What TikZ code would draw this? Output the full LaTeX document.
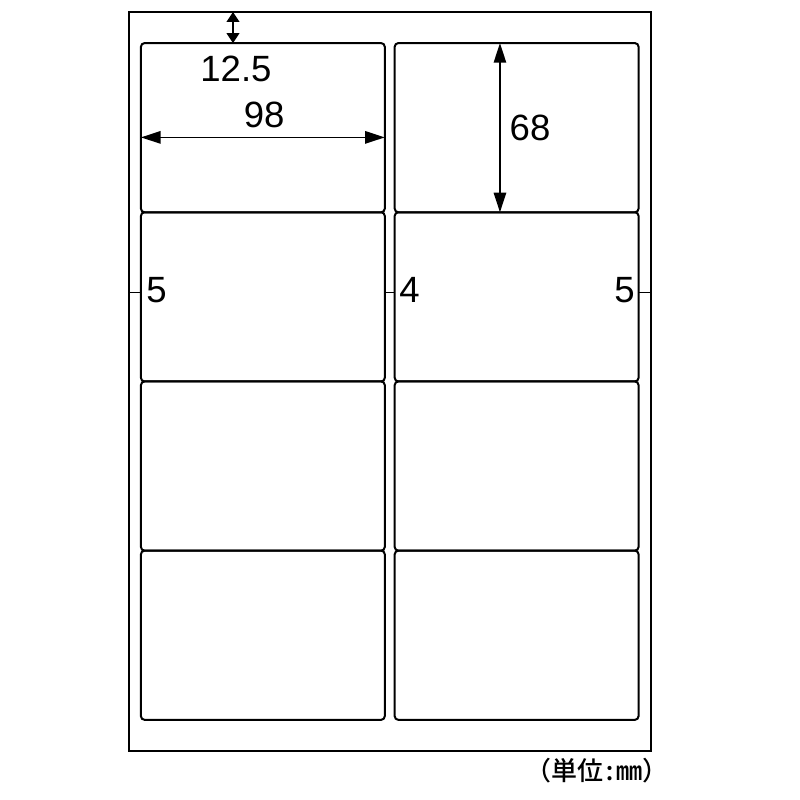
\documentclass[tikz,border=0pt]{standalone}
\usepackage{fontspec}
\setmainfont{Liberation Sans}
\newfontfamily\jpfont[UprightFont=* Medium]{Noto Sans CJK JP}
\newfontfamily\jphalf[UprightFont=* Medium,CharacterWidth=Half]{Noto Sans CJK JP}
\usetikzlibrary{arrows.meta}
\tikzset{
  sheet/.style={line width=0.5mm},
  labelbox/.style={line width=0.5mm, rounded corners=0.9mm},
  dimline/.style={line width=0.38mm},
  dimarrow/.style={dimline, {Triangle[length=4.9mm,width=3.1mm]}-{Triangle[length=4.9mm,width=3.1mm]}},
  dimshort/.style={dimline, {Triangle[length=2.5mm,width=3.2mm]}-{Triangle[length=2.5mm,width=3.2mm]}},
  dimtext/.style={font=\fontsize{26}{30}\selectfont, inner sep=0pt},
  unittext/.style={font=\fontsize{18.5}{20}\selectfont\jpfont, inner sep=0pt},
}
\begin{document}
\begin{tikzpicture}[x=0.622mm,y=-0.622mm]
\useasboundingbox (-51.65,-4.82) rectangle (269.9,316.7);
%sheet
\draw[sheet] (0,0) rectangle (210,297);
%labels 2 x 4
\foreach \c in {0,1}{
	\foreach \r in {0,...,3}{
		\draw[labelbox] (5+\c*102,12.5+\r*68) rectangle (103+\c*102,80.5+\r*68);
	}
}
%top margin
\draw[dimshort] (42,0) -- (42,12.5);
\node[dimtext] (top) at (43.2,22.7) {12.5};
%label width and height
\draw[dimarrow] (5,50.4) -- (103,50.4);
\node[dimtext] (wid) at (54.5,41.4) {98};
\draw[dimarrow] (149.3,12.5) -- (149.3,80.5);
\node[dimtext] (hgt) at (161.4,46.4) {68};
%side margins and gap
\def\t{112.8}
\draw[dimline] (0,\t) -- (5,\t);
\draw[dimline] (103,\t) -- (107,\t);
\draw[dimline] (205,\t) -- (210,\t);
\node[dimtext] (left) at (11.3,111.6) {5};
\node[dimtext] (gap) at (113.0,111.6) {4};
\node[dimtext] (right) at (199.4,111.6) {5};
%unit
\node[unittext] (unit) at (188.3,305.1) {（単位{\jphalf :mm}）};
\end{tikzpicture}
\end{document}
